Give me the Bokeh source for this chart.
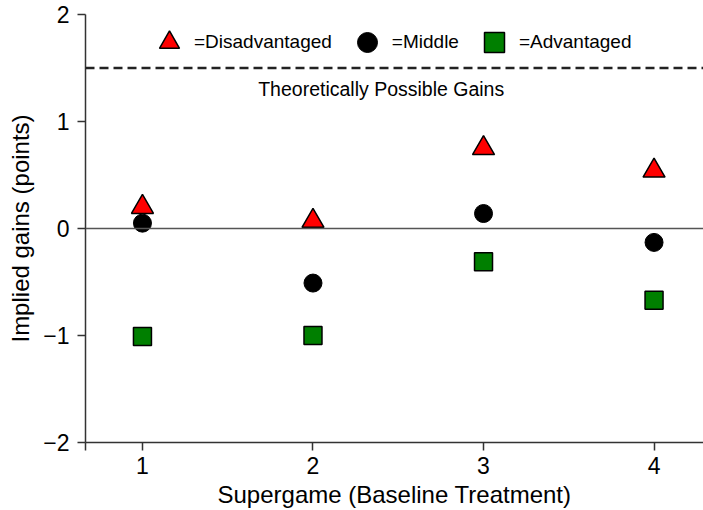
from bokeh.plotting import figure
from bokeh.models import (ColumnDataSource, FixedTicker, CustomJSTickFormatter, Span,
                          Label, Legend, LegendItem, Range1d)
from bokeh.embed import file_html
from bokeh.resources import INLINE

# ---- data ----
supergame = [1, 2, 3, 4]
disadvantaged = [0.20, 0.07, 0.75, 0.54]
middle = [0.05, -0.51, 0.14, -0.13]
advantaged = [-1.01, -1.00, -0.31, -0.67]
theoretical_gain = 1.5
x_ticks = [1, 2, 3, 4]
y_ticks = [-2, -1, 0, 1, 2]
x_lo, x_hi = 0.666, 4.29
y_lo, y_hi = -2, 2

FONT = "Liberation Sans"

p = figure(width=703, height=510, output_backend="svg", toolbar_location=None,
           x_range=Range1d(x_lo, x_hi), y_range=Range1d(y_lo, y_hi),
           min_border_left=85, min_border_right=0, min_border_top=14, min_border_bottom=67)
p.outline_line_color = None
p.grid.visible = False
p.background_fill_color = "white"
p.border_fill_color = "white"

# axes
for ax in (p.xaxis[0], p.yaxis[0]):
    ax.axis_line_color = "#333333"
    ax.axis_line_width = 1.5
    ax.major_tick_line_color = "#333333"
    ax.major_tick_line_width = 1.5
    ax.major_tick_out = 8
    ax.major_tick_in = 0
    ax.minor_tick_line_color = None
    ax.major_label_text_font = FONT
    ax.major_label_text_font_size = "23px"
    ax.major_label_text_color = "black"
    ax.axis_label_text_font = FONT
    ax.axis_label_text_font_size = "24px"
    ax.axis_label_text_font_style = "normal"
    ax.axis_label_text_color = "black"

p.xaxis.ticker = FixedTicker(ticks=[x_lo] + x_ticks)
p.xaxis.formatter = CustomJSTickFormatter(code="return tick < 0.9 ? '' : tick.toFixed(0);")
p.xaxis.major_label_standoff = 6
p.xaxis.axis_label = "Supergame (Baseline Treatment)"
p.xaxis.axis_label_standoff = 4

p.yaxis.ticker = FixedTicker(ticks=y_ticks)
p.yaxis.formatter = CustomJSTickFormatter(
    code="return tick < 0 ? '\u2212' + Math.abs(tick).toFixed(0) : tick.toFixed(0);")
p.yaxis.major_label_standoff = 8
p.yaxis.axis_label = "Implied gains (points)"
p.yaxis.axis_label_standoff = 6

# reference lines
p.add_layout(Span(location=0, dimension="width", line_color="#555555", line_width=1.5))
p.add_layout(Span(location=theoretical_gain, dimension="width", line_color="#222222",
                  line_width=2.5, line_dash="9 5"))
p.add_layout(Label(x=2.4, y=1.3, text="Theoretically Possible Gains", text_align="center",
                   text_baseline="middle", text_font=FONT, text_font_size="19.5px",
                   text_color="black"))

src = ColumnDataSource(dict(x=supergame, dis=disadvantaged, mid=middle, adv=advantaged))

r_dis = p.scatter("x", "dis", source=src, marker="triangle", size=22,
                  fill_color="#FF0000", line_color="black", line_width=1.5)
r_mid = p.scatter("x", "mid", source=src, marker="circle", size=18,
                  fill_color="black", line_color="black", line_width=1)
r_adv = p.scatter("x", "adv", source=src, marker="square", size=18,
                  fill_color="#007F00", line_color="black", line_width=1.5)

legend = Legend(items=[LegendItem(label="=Disadvantaged", renderers=[r_dis]),
                       LegendItem(label="=Middle", renderers=[r_mid]),
                       LegendItem(label="=Advantaged", renderers=[r_adv])],
                orientation="horizontal", location=(59, 375))
legend.border_line_color = None
legend.background_fill_alpha = 0
legend.label_text_font = FONT
legend.label_text_font_size = "19px"
legend.label_text_color = "black"
legend.label_standoff = 0
legend.glyph_width = 50
legend.glyph_height = 50
legend.spacing = 10
legend.margin = 0
legend.padding = 0
p.add_layout(legend)

open("out.html", "w").write(file_html(p, INLINE))
